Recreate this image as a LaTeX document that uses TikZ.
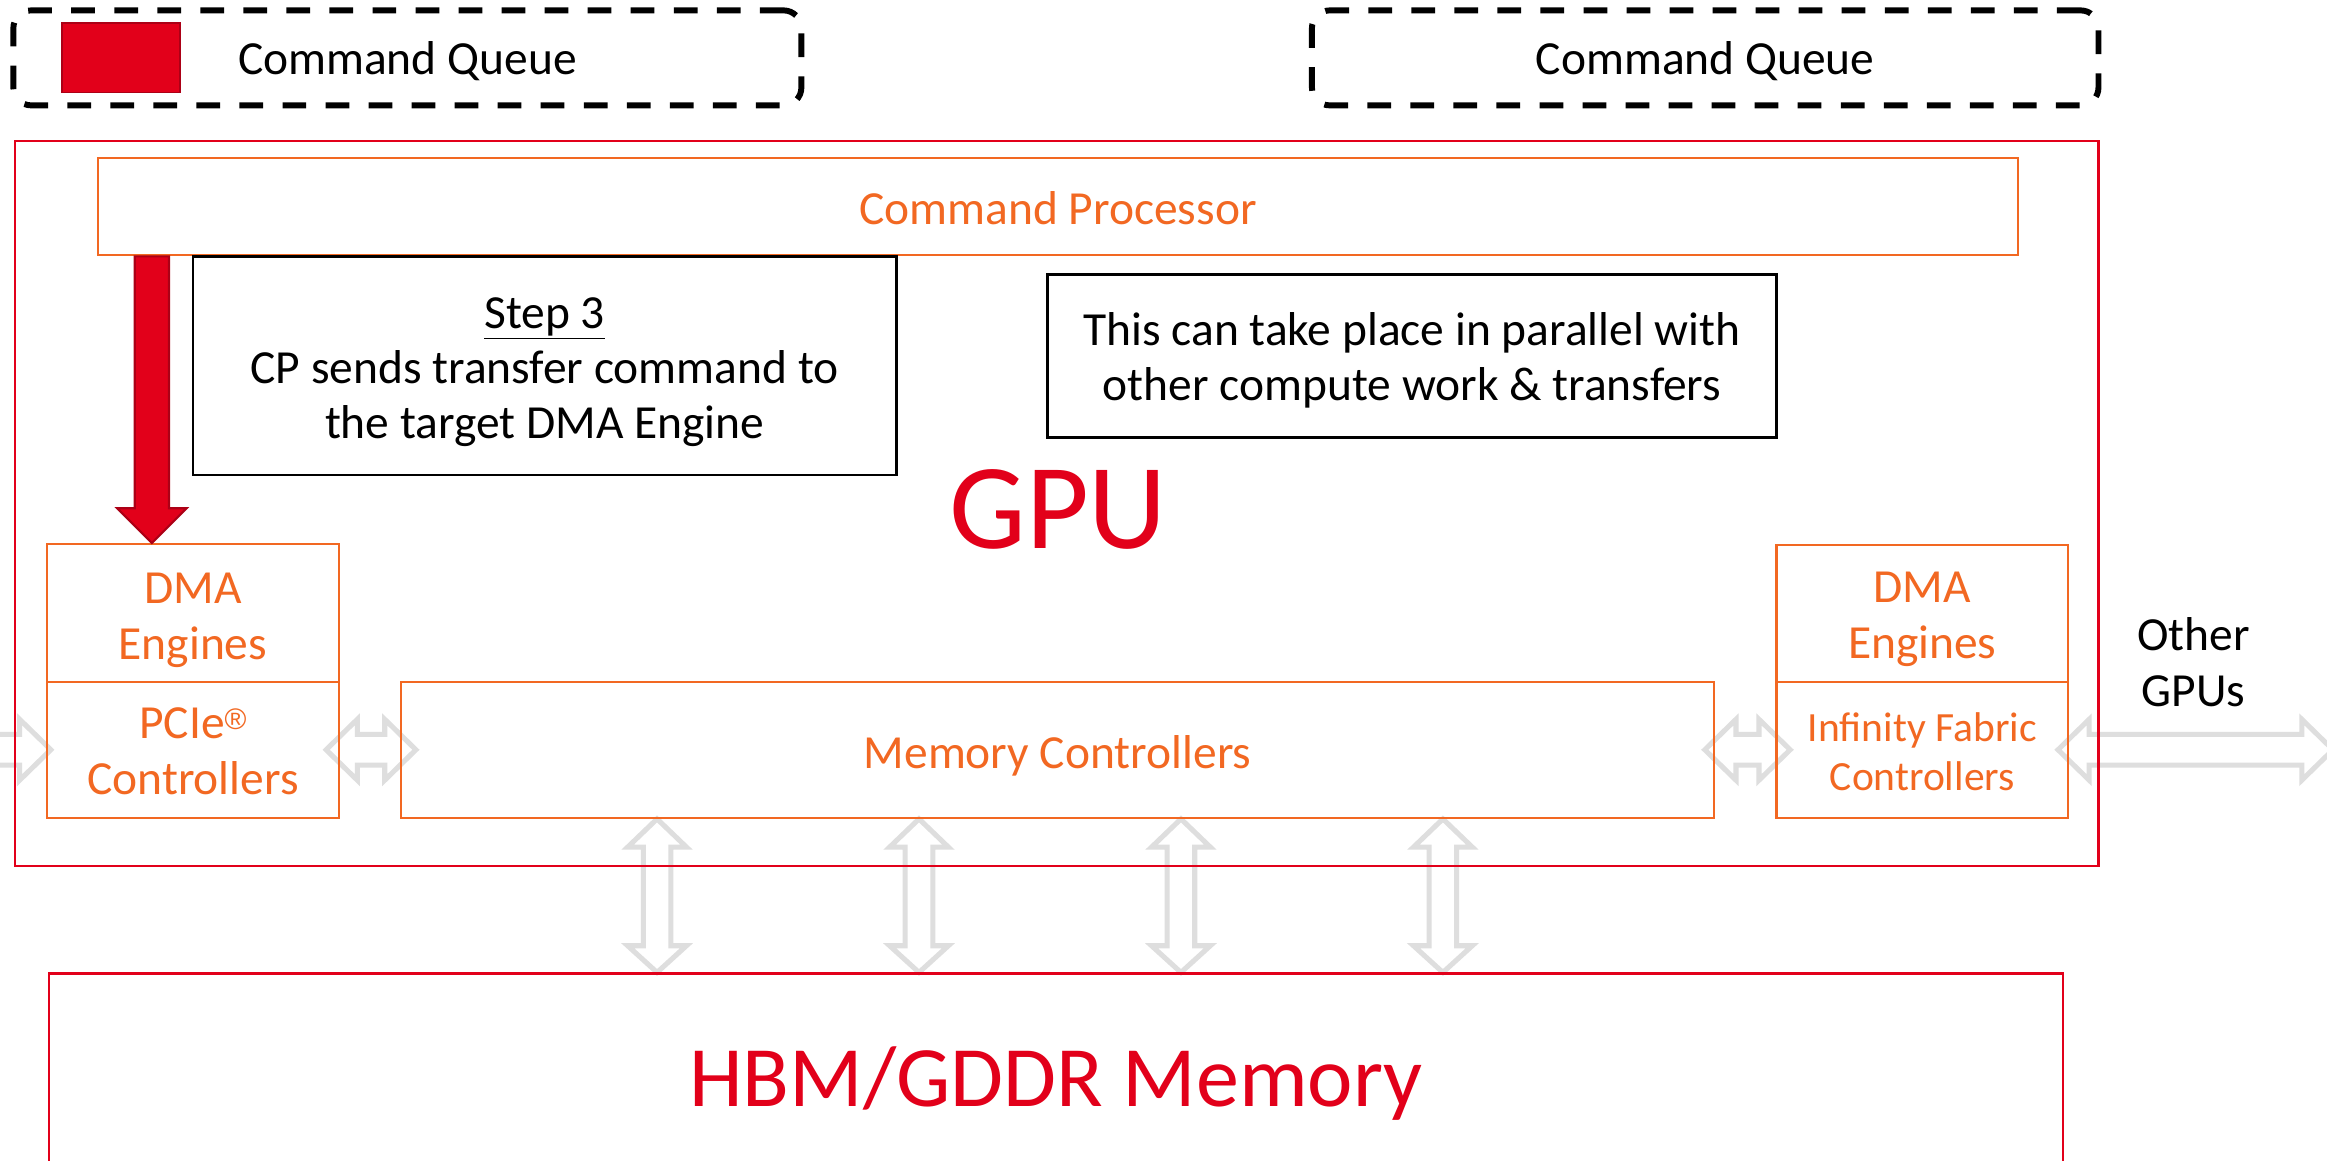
\documentclass[tikz,border=0pt]{standalone}
\usepackage{fontspec}
\setmainfont{Carlito}
\newfontfamily\regfont{Liberation Sans}
\usetikzlibrary{calc,backgrounds}
\definecolor{amdred}{RGB}{226,0,26}
\definecolor{amdorange}{RGB}{242,104,34}
\definecolor{lgray}{RGB}{222,222,222}
\definecolor{dred}{RGB}{172,0,22}
\tikzset{
  obox/.style={draw=amdorange, line width=1.5pt, inner sep=0pt},
  otxt/.style={text=amdorange, inner sep=0pt, align=center, font=\fontsize{32}{38}\selectfont},
  rbox/.style={draw=amdred, line width=1.5pt, inner sep=0pt},
  kbox/.style={draw=black, line width=1.8pt, inner sep=0pt},
  ktxt/.style={text=black, inner sep=0pt, align=center, font=\fontsize{32}{37}\selectfont},
  qbox/.style={draw=black, line width=4pt, dash pattern=on 16pt off 13pt, rounded corners=12pt, inner sep=0pt, minimum height=64pt},
  plaintxt/.style={inner sep=0pt, align=center, font=\fontsize{32}{38}\selectfont},
  garrow/.style={draw=lgray, line width=3.4pt, line join=miter},
  redarrow/.style={fill=amdred, draw=dred, line width=1.5pt, line join=miter},
}
\newcommand\hdarr[2]{\draw[garrow] let \p1=(#1), \p2=(#2) in
  (\x1,\y1) -- (\x1+21pt,\y1+20.5pt) -- (\x1+21pt,\y1+10.4pt) -- (\x2-21pt,\y1+10.4pt) -- (\x2-21pt,\y1+20.5pt) -- (\x2,\y1)
  -- (\x2-21pt,\y1-20.5pt) -- (\x2-21pt,\y1-10.4pt) -- (\x1+21pt,\y1-10.4pt) -- (\x1+21pt,\y1-20.5pt) -- cycle;}
\newcommand\vdarr[2]{\draw[garrow] let \p1=(#1), \p2=(#2) in
  (\x1,\y1) -- (\x1+19.8pt,\y1-19pt) -- (\x1+9.3pt,\y1-19pt) -- (\x1+9.3pt,\y2+18pt) -- (\x1+19.8pt,\y2+18pt) -- (\x1,\y2)
  -- (\x1-19.8pt,\y2+18pt) -- (\x1-9.3pt,\y2+18pt) -- (\x1-9.3pt,\y1-19pt) -- (\x1-19.8pt,\y1-19pt) -- cycle;}
\newcommand\regmark{\raisebox{6pt}{\regfont\fontsize{20}{20}\selectfont ®}}
\begin{document}
\begin{tikzpicture}[x=1pt,y=-1pt]
\useasboundingbox (0,0) rectangle (1568,782);

% command queues
\node[qbox, minimum width=531pt, label={[ktxt, yshift=-2pt]center:Command Queue}] (cq1) at (274.5,39) {};
\node[fill=amdred, draw=dred, line width=1pt, inner sep=0pt, minimum width=79.7pt, minimum height=46.9pt] (redsq) at (81.5,38.8) {};
\node[qbox, minimum width=530pt, label={[ktxt, yshift=-2pt]center:Command Queue}] (cq2) at (1149,39) {};

% GPU
\node[rbox, minimum width=1404pt, minimum height=488.6pt] (gpu) at (712,339.3) {};
\node[obox, minimum width=1294.2pt, minimum height=65.4pt, label={[otxt, yshift=-1pt]center:Command Processor}] (cp) at (712.9,139.3) {};
\node[kbox, minimum width=474pt, minimum height=147pt, label={[ktxt, yshift=-4pt]center:{\underline{Step 3}\\CP sends transfer command to\\the target DMA Engine}}] (step) at (367,246.5) {};
\node[kbox, minimum width=491pt, minimum height=110pt, label={[ktxt, yshift=-3pt]center:{This can take place in parallel with\\other compute work \& transfers}}] (par) at (951.5,240) {};
\node[inner sep=0pt, text=amdred, font=\fontsize{82}{90}\selectfont] (gputxt) at (713,343) {GPU};

\node[obox, minimum width=197pt, minimum height=92.7pt, label={[otxt, yshift=-5pt]center:{DMA\\Engines}}] (dmaL) at (130,413) {};
\node[obox, minimum width=197pt, minimum height=91.7pt, label={[otxt, yshift=-1pt]center:{PCIe\regmark\\Controllers}}] (pcie) at (130,505.2) {};
\node[obox, minimum width=884.8pt, minimum height=91.7pt, label={[otxt, yshift=-4pt]center:Memory Controllers}] (mem) at (712.6,505.2) {};
\node[obox, minimum width=196.6pt, minimum height=92.3pt, label={[otxt, yshift=-4pt]center:{DMA\\Engines}}] (dmaR) at (1295.3,413.2) {};
\node[obox, minimum width=196.6pt, minimum height=91.7pt, label={[otxt, yshift=-1pt, font=\fontsize{28}{33}\selectfont]center:{Infinity Fabric\\Controllers}}] (ifc) at (1295.3,505.2) {};

\node[plaintxt] (other) at (1478,446) {Other\\GPUs};

% memory
\node[rbox, minimum width=1357pt, minimum height=144pt, label={[inner sep=0pt, text=amdred, font=\fontsize{58}{64}\selectfont, yshift=-2pt]center:HBM/GDDR Memory}] (hbm) at (711.5,728) {};

% red arrow
\path (cp.south west) ++(37.3,0) coordinate (rs);
\draw[redarrow] let \p1=(rs), \p2=(rs |- dmaL.north) in
  (\x1-11.5pt,\y1) -- (\x1+11.5pt,\y1) -- (\x1+11.5pt,\y2+23.5pt) -- (\x1+23.5pt,\y2+23.5pt) -- (\x1,\y2)
  -- (\x1-23.5pt,\y2+23.5pt) -- (\x1-11.5pt,\y2+23.5pt) -- cycle;

\begin{scope}[on background layer]
\fill[white] (0,0) rectangle (1568,782);
\coordinate (pin) at (-40,505.2);
\coordinate (pout) at (1572,505.2);
\hdarr{pin}{$(pcie.west)+(3.5,0)$}
\hdarr{$(pcie.east)+(-9.5,0)$}{$(mem.west)+(10.8,0)$}
\hdarr{$(mem.east)+(-7,0)$}{$(ifc.west)+(10,0)$}
\hdarr{$(ifc.east)+(-7.6,0)$}{pout}
\path (mem.south west) ++(173.3,0) coordinate (v1) ++(176.5,0) coordinate (v2) ++(176.5,0) coordinate (v3) ++(176.5,0) coordinate (v4);
\vdarr{v1}{v1 |- hbm.north}
\vdarr{v2}{v2 |- hbm.north}
\vdarr{v3}{v3 |- hbm.north}
\vdarr{v4}{v4 |- hbm.north}
\end{scope}
\end{tikzpicture}
\end{document}
